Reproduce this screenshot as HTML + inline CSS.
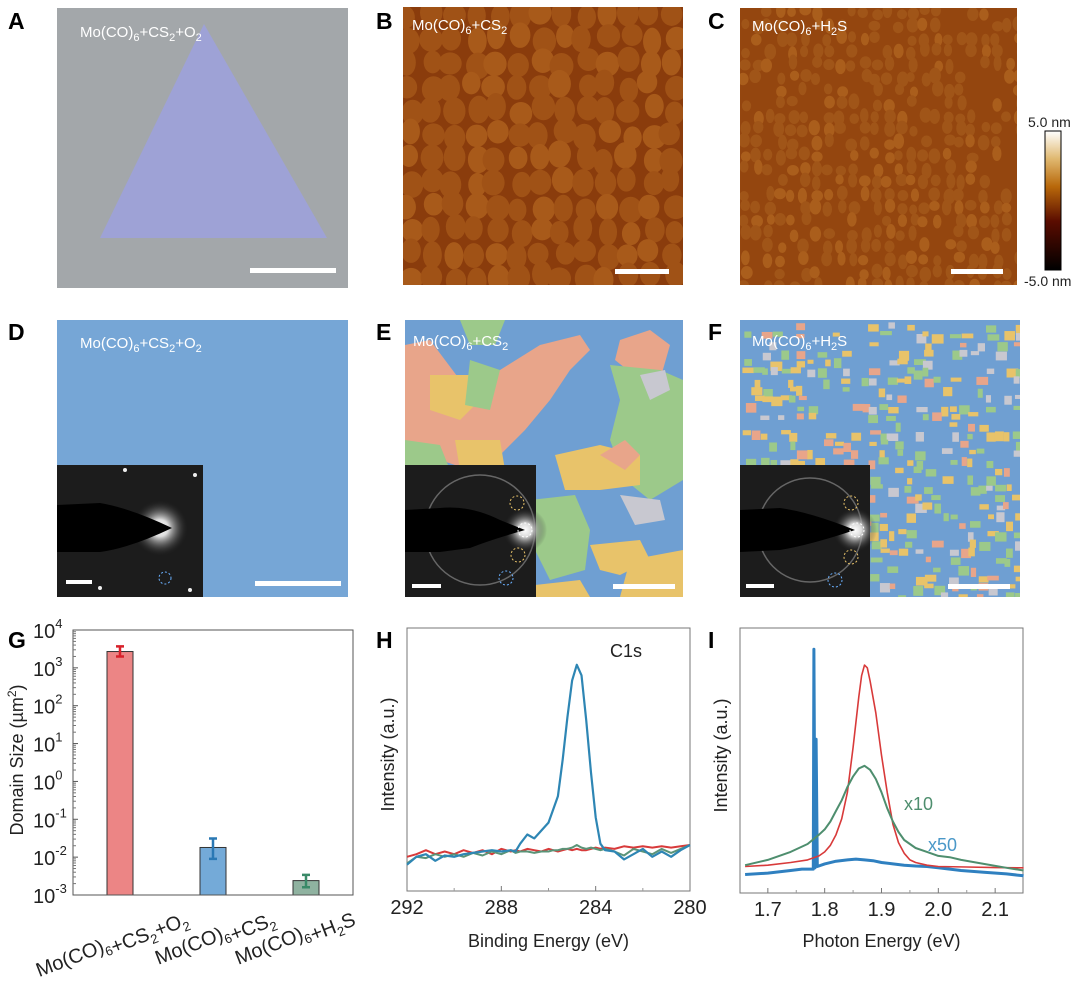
<!DOCTYPE html>
<html><head><meta charset="utf-8"><style>
body{margin:0;background:#fff;}
svg{display:block;font-family:"Liberation Sans",sans-serif;}
.pl{font-weight:bold;font-size:23px;fill:#000;}
.lbl{fill:#fff;font-size:15px;}
.tk{font-size:20px;fill:#222;}
.at{font-size:18px;fill:#222;}
</style></head><body>
<svg id="fig" width="1080" height="981" viewBox="0 0 1080 981">
<defs>
<clipPath id="cB"><rect x="403" y="7" width="280" height="278"/></clipPath>
<clipPath id="cC"><rect x="740" y="8" width="277" height="277"/></clipPath>
<clipPath id="cE"><rect x="405" y="320" width="278" height="277"/></clipPath>
<clipPath id="cF"><rect x="740" y="320" width="280" height="277"/></clipPath>
<linearGradient id="cbar" x1="0" y1="1" x2="0" y2="0"><stop offset="0" stop-color="#000"/><stop offset="0.35" stop-color="#5a0c00"/><stop offset="0.6" stop-color="#b8680a"/><stop offset="0.8" stop-color="#e0b870"/><stop offset="1" stop-color="#fff"/></linearGradient>
<radialGradient id="glow"><stop offset="0" stop-color="#fff"/><stop offset="0.3" stop-color="#ddd"/><stop offset="1" stop-color="#222" stop-opacity="0"/></radialGradient>
</defs>

<!-- Panel A -->
<text class="pl" x="8" y="29">A</text>
<g>
<rect x="57" y="8" width="291" height="280" fill="#a3a7aa"/>
<polygon points="204,24 100,238 327,238" fill="#9ea2d6"/>
<rect x="250" y="268" width="86" height="5" fill="#fff"/>
<text class="lbl" x="80" y="37">Mo(CO)<tspan font-size="11" dy="4">6</tspan><tspan dy="-4">+CS</tspan><tspan font-size="11" dy="4">2</tspan><tspan dy="-4">+O</tspan><tspan font-size="11" dy="4">2</tspan></text>
</g>

<!-- Panel B -->
<text class="pl" x="376" y="29">B</text>
<g clip-path="url(#cB)">
<rect x="403" y="7" width="280" height="278" fill="#8a3c0c"/>
<g id="grainsB"></g>
</g>
<rect x="615" y="269" width="54" height="5" fill="#fff"/>
<text class="lbl" x="412" y="30">Mo(CO)<tspan font-size="11" dy="4">6</tspan><tspan dy="-4">+CS</tspan><tspan font-size="11" dy="4">2</tspan></text>

<!-- Panel C -->
<text class="pl" x="708" y="29">C</text>
<g clip-path="url(#cC)">
<rect x="740" y="8" width="277" height="277" fill="#94460f"/>
<g id="grainsC"></g>
</g>
<rect x="951" y="269" width="52" height="5" fill="#fff"/>
<text class="lbl" x="752" y="31">Mo(CO)<tspan font-size="11" dy="4">6</tspan><tspan dy="-4">+H</tspan><tspan font-size="11" dy="4">2</tspan><tspan dy="-4">S</tspan></text>
<g>
<rect x="1045" y="131" width="16" height="139" fill="url(#cbar)" stroke="#000" stroke-width="1"/>
<text x="1028" y="127" font-size="14" fill="#222">5.0 nm</text>
<text x="1024" y="286" font-size="14" fill="#222">-5.0 nm</text>
</g>

<!-- Panel D -->
<text class="pl" x="8" y="340">D</text>
<g>
<rect x="57" y="320" width="291" height="277" fill="#76a6d6"/>
<rect x="57" y="465" width="146" height="132" fill="#1c1c1c"/>
<circle cx="160" cy="528" r="28" fill="url(#glow)"/>
<path d="M57,505 L100,503 Q130,508 172,528 Q130,548 100,552 L57,552 Z" fill="#000"/>
<circle cx="125" cy="470" r="2" fill="#eee"/><circle cx="195" cy="475" r="2" fill="#eee"/><circle cx="190" cy="590" r="2" fill="#eee"/><circle cx="100" cy="588" r="2" fill="#eee"/>
<circle cx="165" cy="578" r="6" fill="none" stroke="#6ab0ff" stroke-dasharray="2 2"/>
<rect x="66" y="580" width="26" height="4" fill="#fff"/>
<rect x="255" y="581" width="86" height="5" fill="#fff"/>
<text class="lbl" x="80" y="348">Mo(CO)<tspan font-size="11" dy="4">6</tspan><tspan dy="-4">+CS</tspan><tspan font-size="11" dy="4">2</tspan><tspan dy="-4">+O</tspan><tspan font-size="11" dy="4">2</tspan></text>
</g>

<!-- Panel E -->
<text class="pl" x="376" y="340">E</text>
<g clip-path="url(#cE)">
<rect x="405" y="320" width="278" height="277" fill="#6f9fd2"/>
<polygon points="405,345 430,340 460,380 500,370 540,345 580,335 590,350 570,370 550,400 525,430 500,455 470,470 440,460 405,450" fill="#e8a58a"/>
<polygon points="430,375 470,375 480,400 460,420 430,410" fill="#e8c36a"/>
<polygon points="470,360 500,370 490,410 465,405" fill="#9cc98a"/>
<polygon points="455,440 500,440 505,470 480,475 460,470" fill="#e8c36a"/>
<polygon points="460,320 505,320 495,345 470,345" fill="#9cc98a"/>
<polygon points="405,440 440,445 450,470 405,470" fill="#9cc98a"/>
<polygon points="620,340 650,330 670,345 660,380 640,380 615,360" fill="#e8a58a"/>
<polygon points="610,365 660,370 683,380 683,480 650,500 625,480 610,440 620,400" fill="#9cc98a"/>
<polygon points="640,375 665,370 670,390 650,400" fill="#c8c8d0"/>
<polygon points="555,455 600,445 640,455 640,485 600,490 565,490" fill="#e8c36a"/>
<polygon points="530,500 575,495 590,530 585,570 550,580 535,550" fill="#9cc98a"/>
<polygon points="590,545 640,540 650,560 620,575 600,570" fill="#e8c36a"/>
<polygon points="620,495 660,500 665,520 635,525" fill="#c8c8d0"/>
<polygon points="630,560 683,550 683,597 620,597" fill="#e8c36a"/>
<polygon points="600,455 625,440 640,455 625,470" fill="#e8a58a"/>
<polygon points="535,585 580,580 590,597 535,597" fill="#e8c36a"/>
<rect x="405" y="465" width="131" height="132" fill="#1c1c1c"/>
<circle cx="480" cy="530" r="55" fill="none" stroke="#666" stroke-width="1.5"/>
<circle cx="525" cy="530" r="22" fill="url(#glow)"/>
<path d="M405,510 L440,508 Q470,505 500,520 L525,530 Q490,540 470,548 L440,552 L405,552 Z" fill="#000"/>
<circle cx="517" cy="503" r="7" fill="none" stroke="#e8c36a" stroke-dasharray="2 2"/>
<circle cx="525" cy="530" r="7" fill="none" stroke="#fff" stroke-dasharray="2 2"/>
<circle cx="518" cy="555" r="7" fill="none" stroke="#e8c36a" stroke-dasharray="2 2"/>
<circle cx="506" cy="578" r="7" fill="none" stroke="#6ab0ff" stroke-dasharray="2 2"/>
<rect x="412" y="584" width="29" height="4" fill="#fff"/>
<rect x="613" y="584" width="62" height="5" fill="#fff"/>
</g>
<text class="lbl" x="413" y="346">Mo(CO)<tspan font-size="11" dy="4">6</tspan><tspan dy="-4">+CS</tspan><tspan font-size="11" dy="4">2</tspan></text>

<!-- Panel F -->
<text class="pl" x="708" y="340">F</text>
<g clip-path="url(#cF)">
<rect x="740" y="320" width="280" height="277" fill="#6f9fd2"/>
<g id="patchF"></g>
<rect x="740" y="465" width="130" height="132" fill="#1c1c1c"/>
<circle cx="810" cy="530" r="52" fill="none" stroke="#666" stroke-width="1.5"/>
<circle cx="855" cy="530" r="22" fill="url(#glow)"/>
<path d="M740,510 L780,508 Q810,512 855,530 Q810,545 780,550 L740,552 Z" fill="#000"/>
<circle cx="851" cy="503" r="7" fill="none" stroke="#e8c36a" stroke-dasharray="2 2"/>
<circle cx="857" cy="530" r="7" fill="none" stroke="#fff" stroke-dasharray="2 2"/>
<circle cx="851" cy="557" r="7" fill="none" stroke="#e8c36a" stroke-dasharray="2 2"/>
<circle cx="835" cy="580" r="7" fill="none" stroke="#6ab0ff" stroke-dasharray="2 2"/>
<rect x="746" y="584" width="28" height="4" fill="#fff"/>
<rect x="948" y="584" width="62" height="5" fill="#fff"/>
</g>
<text class="lbl" x="752" y="346">Mo(CO)<tspan font-size="11" dy="4">6</tspan><tspan dy="-4">+H</tspan><tspan font-size="11" dy="4">2</tspan><tspan dy="-4">S</tspan></text>

<!-- Panel G -->
<text class="pl" x="8" y="648">G</text>
<g id="gG"></g>
<!-- Panel H -->
<text class="pl" x="376" y="648">H</text>
<g id="gH"></g>
<!-- Panel I -->
<text class="pl" x="708" y="648">I</text>
<g id="gI"></g>
</svg>
<script>
// ---- Panel G data
const gCategories = ["CS2+O2", "CS2", "H2S"];
const gValues = [2700, 0.018, 0.0024];
const gErrLow = [2000, 0.009, 0.0016];
const gErrHigh = [3700, 0.031, 0.0034];
const gTickExps = [4, 3, 2, 1, 0, -1, -2, -3];
// ---- Panel H data
const hEnergy = [292,291.6,291.2,290.8,290.4,290,289.6,289.2,288.8,288.4,288,287.6,287.4,287.2,286.9,286.6,286.3,286,285.8,285.6,285.4,285.2,285,284.8,284.6,284.4,284.2,284,283.8,283.6,283.2,282.8,282.4,282,281.6,281.2,280.8,280.4,280];
const hBlue  = [10,13,14,11.5,13.5,13,14,14.5,15,15.5,15,15.5,15,18,21.5,20,23,26,31,36,50,66,80,86,82,65,45,28,18,15.5,15,12,14,16,13,15,13,15.5,17.5];
const hRed   = [13,14,15.5,14,15,14,15.5,14.5,15.5,14,16,15,15.5,15,16,15.5,15,16,15.5,15,15.5,16,15.5,16,15.5,15.5,16,16.5,16,16.5,16,17,16.5,17,16.5,17,16.5,17,17.5];
const hGreen = [10.5,13,12.5,14,13,14,13,14.5,13.5,15,14,15.5,14.5,15,15,14.5,15,15,15.5,15.5,16,16,16.5,17.5,16.5,16,16.5,16,15.5,16,15,13.5,16,15,14,16,14.5,16,17.5];
const hTicks = [292, 288, 284, 280];
// ---- Panel I data
const iBlueE  = [1.66,1.70,1.74,1.76,1.78,1.781,1.783,1.785,1.787,1.80,1.82,1.84,1.855,1.87,1.885,1.90,1.92,1.94,1.96,1.98,2.00,2.04,2.08,2.12,2.15];
const iBlue   = [7,7.5,8.5,9,9,92,9.5,58,10,11,12,12.5,12.8,12.5,12.2,11.5,11,10.5,10.2,10,9.5,8.5,7.8,7.2,6.5];
const iRedE   = [1.66,1.70,1.74,1.77,1.79,1.80,1.81,1.82,1.83,1.84,1.85,1.86,1.865,1.87,1.875,1.88,1.89,1.90,1.91,1.92,1.93,1.94,1.95,1.96,1.98,2.00,2.05,2.10,2.15];
const iRed    = [10,10.5,11.5,12.5,14,15.5,18,22,28,38,55,74,82,86,85,80,68,52,38,26,19,15,12.5,11.5,10.5,10,9.8,9.6,9.5];
const iGreenE = [1.66,1.70,1.74,1.77,1.79,1.80,1.81,1.82,1.83,1.84,1.85,1.86,1.87,1.88,1.89,1.90,1.91,1.92,1.93,1.94,1.96,1.98,2.00,2.02,2.04,2.08,2.12,2.15];
const iGreen  = [10.5,12.5,15.5,18.5,22,24,27,31,35,40,44,47,48,46.5,43,38,32,27,23,20,17,15.5,14,13.5,12.5,11,9.5,8.5];
const iTicks = [1.7, 1.8, 1.9, 2.0, 2.1];

const NS = "http://www.w3.org/2000/svg";
function mk(tag, attrs, parent) {
  const e = document.createElementNS(NS, tag);
  for (const k in attrs) e.setAttribute(k, attrs[k]);
  parent.appendChild(e);
  return e;
}
// decorative texture (seeded)
let seed = 7;
function rnd() { seed = (seed * 16807) % 2147483647; return seed / 2147483647; }
const gB = document.getElementById('grainsB');
for (let yy = 10; yy < 290; yy += 24) for (let xx = 405; xx < 690; xx += 22) {
  const el = mk('ellipse', {cx: xx + rnd()*8, cy: yy + rnd()*8, rx: 9 + rnd()*3, ry: 11 + rnd()*3, fill: rnd() < 0.3 ? '#a85a1a' : '#a05216'}, gB);
  
  
}
const gC = document.getElementById('grainsC');
for (let yy = 10; yy < 290; yy += 13) for (let xx = 742; xx < 1020; xx += 12) {
  if (rnd() < 0.3) continue;
  const el = mk('ellipse', {cx: xx + rnd()*5, cy: yy + rnd()*5, rx: 4 + rnd()*2, ry: 5 + rnd()*3, fill: rnd() < 0.3 ? '#aa5e1c' : '#a05518'}, gC);
  
  
}
const pF = document.getElementById('patchF');
const fcols = ['#9cc98a','#e8c36a','#e8a58a','#9cc98a','#c8c8d0','#e8c36a'];
for (let yy = 322; yy < 600; yy += 9) for (let xx = 742; xx < 1020; xx += 9) {
  if (rnd() < 0.62) continue;
  const el = mk('rect', {x: xx + rnd()*4, y: yy + rnd()*4, width: 5 + rnd()*7, height: 4 + rnd()*6, fill: fcols[Math.floor(rnd()*fcols.length)]}, pF);
  
  
}

// ---- Panel G
(function(){
  const g = document.getElementById('gG');
  const L = 73, R = 353, T = 630, B = 895;
  const y = v => B - (Math.log10(v) + 3) * (B - T) / 7;
  const xc = i => 120 + i * 93;
  const cols = ['#ec8585', '#74aad8', '#8fb2a0'];
  const ecols = ['#d8202a', '#2a78b4', '#3a8a68'];
  gValues.forEach((v, i) => {
    const b = mk('rect', {x: xc(i) - 13, y: y(v), width: 26, height: B - y(v), fill: cols[i], stroke: '#333', 'stroke-width': 1}, g);
    
    
    const e = mk('path', {d: `M${xc(i)},${y(gErrHigh[i])}V${y(gErrLow[i])}M${xc(i)-4},${y(gErrHigh[i])}H${xc(i)+4}M${xc(i)-4},${y(gErrLow[i])}H${xc(i)+4}`, stroke: ecols[i], 'stroke-width': 2.5, fill: 'none'}, g);
    
    
  });
  const ax = mk('rect', {x: L, y: T, width: R - L, height: B - T, fill: 'none', stroke: '#555', 'stroke-width': 1}, g);
  
  
  gTickExps.forEach(ex => {
    const yy = y(Math.pow(10, ex));
    mk('line', {x1: L, x2: L + 5, y1: yy, y2: yy, stroke: '#555'}, g);
    if (ex > -3) for (let k = 2; k < 10; k++) { const ym = y(k * Math.pow(10, ex - 1)); mk('line', {x1: L, x2: L + 3, y1: ym, y2: ym, stroke: '#777'}, g); }
    const t = mk('text', {x: 33, y: yy + 8, class: 'tk', 'font-size': 21}, g);
    
    
    t.innerHTML = '10<tspan font-size="13" dy="-10">' + ex + '</tspan>';
  });
  const yt = mk('text', {x: 0, y: 0, class: 'at', 'font-size': 19, 'text-anchor': 'middle', transform: 'translate(23,760) rotate(-90)'}, g);
  
  
  yt.innerHTML = 'Domain Size  (µm<tspan font-size="12" dy="-7">2</tspan><tspan dy="7">)</tspan>';
  const labs = ['+CS<tspan font-size="13" dy="5">2</tspan><tspan dy="-5">+O</tspan><tspan font-size="13" dy="5">2</tspan>',
                '+CS<tspan font-size="13" dy="5">2</tspan>',
                '+H<tspan font-size="13" dy="5">2</tspan><tspan dy="-5">S</tspan>'];
  const ends = [188, 275, 355];
  labs.forEach((s, i) => {
    const t = mk('text', {x: 0, y: 0, class: 'tk', 'font-size': 19, 'text-anchor': 'end', transform: `translate(${ends[i]},${920}) rotate(-21)`}, g);
    
    
    t.innerHTML = 'Mo(CO)<tspan font-size="13" dy="5">6</tspan><tspan dy="-5"></tspan>' + s;
  });
})();

function lineChart(gid, L, R, T, B, xmin, xmax, xsList, series, cols, widths, ticks, fmt, minors, title, ylabel) {
  const g = document.getElementById(gid);
  const x = v => L + (v - xmin) / (xmax - xmin) * (R - L);
  const y = v => B - v / 100 * (B - T);
  const ax = mk('rect', {x: L, y: T, width: R - L, height: B - T, fill: 'none', stroke: '#777', 'stroke-width': 1}, g);
  
  
  series.forEach((s, j) => {
    const xs = xsList[j];
    const p = mk('path', {d: s.map((v, i) => (i ? 'L' : 'M') + x(xs[i]).toFixed(1) + ',' + y(v).toFixed(1)).join(''), fill: 'none', stroke: cols[j], 'stroke-width': widths[j], 'stroke-linejoin': 'round'}, g);
    
    
  });
  ticks.forEach(t => {
    mk('line', {x1: x(t), x2: x(t), y1: B, y2: B - 5, stroke: '#777'}, g);
    const tl = mk('text', {x: x(t), y: B + 23, class: 'tk', 'text-anchor': 'middle'}, g);
    
    
    tl.textContent = fmt(t);
  });
  minors.forEach(t => mk('line', {x1: x(t), x2: x(t), y1: B, y2: B - 3, stroke: '#999'}, g));
  const xt = mk('text', {x: (L + R) / 2, y: 947, class: 'at', 'text-anchor': 'middle'}, g);
  
  
  xt.textContent = title;
  const yt = mk('text', {x: 0, y: 0, class: 'at', 'text-anchor': 'middle', transform: `translate(${L - 13},${(T + B) / 2 - 5}) rotate(-90)`}, g);
  
  
  yt.textContent = ylabel;
  return {g, x, y};
}
const H = lineChart('gH', 407, 690, 628, 891, 292, 280, [hEnergy, hEnergy, hEnergy], [hRed, hGreen, hBlue], ['#d83a3a', '#5a9478', '#2e86b4'], [2, 2, 2.2], hTicks, t => String(t), [290, 286, 282], 'Binding Energy (eV)', 'Intensity (a.u.)');
const c1 = mk('text', {x: 610, y: 657, class: 'at', 'font-size': 18}, H.g);


c1.textContent = 'C1s';
const I = lineChart('gI', 740, 1023, 628, 893, 1.651, 2.149, [iBlueE, iRedE, iGreenE], [iBlue, iRed, iGreen], ['#2f80c0', '#d83a3a', '#4e8e6e'], [3, 1.6, 2], iTicks, t => t.toFixed(1), [1.75, 1.85, 1.95, 2.05], 'Photon Energy (eV)', 'Intensity (a.u.)');
const a1 = mk('text', {x: 904, y: 810, class: 'at', 'font-size': 17}, I.g);


a1.setAttribute('style', 'fill:#4e8e6e');
a1.textContent = 'x10';
const a2 = mk('text', {x: 928, y: 851, class: 'at', 'font-size': 17}, I.g);


a2.setAttribute('style', 'fill:#4a98c8');
a2.textContent = 'x50';
</script>
</body></html>
